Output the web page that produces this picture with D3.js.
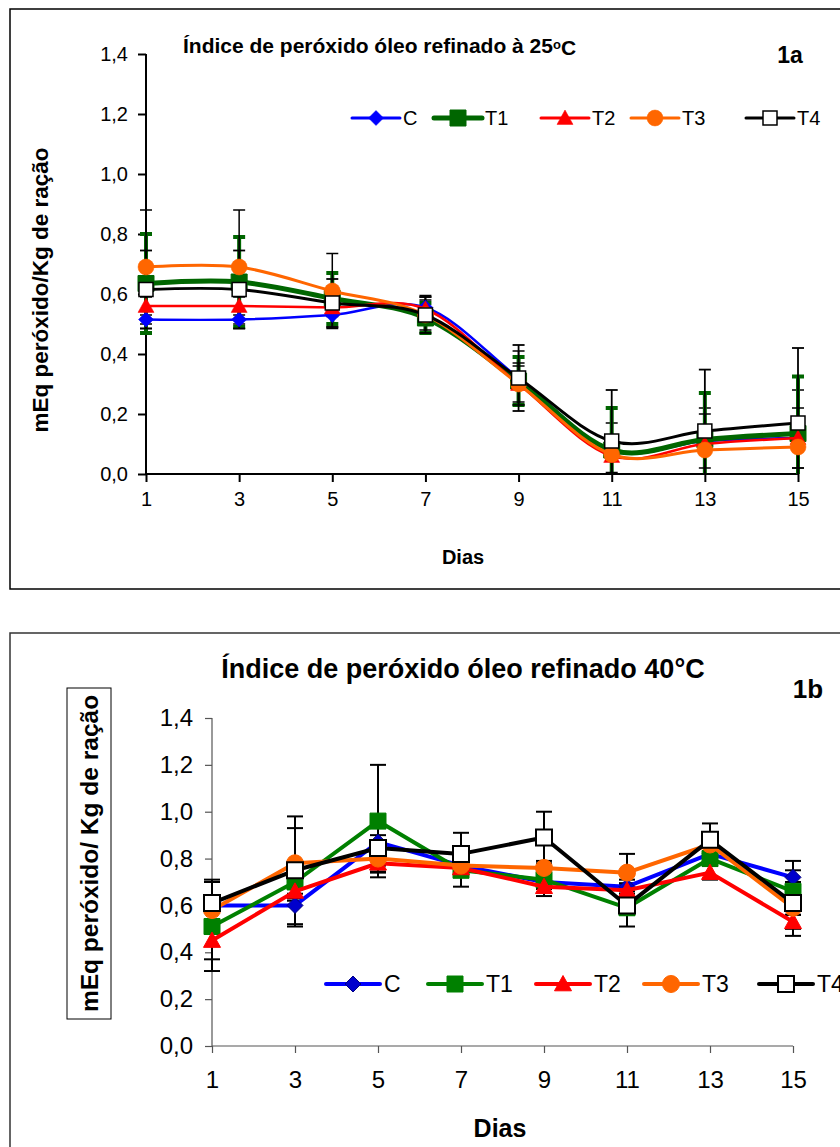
<!DOCTYPE html>
<html><head><meta charset="utf-8">
<script src="https://cdn.jsdelivr.net/npm/d3@7"></script>
<style>body{margin:0;background:#fff;} svg{display:block;font-family:"Liberation Sans",Arial,sans-serif;}</style>
</head><body>
<script>
// ---------- DATA ----------
const days = [1, 3, 5, 7, 9, 11, 13, 15];
const seriesNames = ["C", "T1", "T2", "T3", "T4"];
const yTicks = [0, 0.2, 0.4, 0.6, 0.8, 1.0, 1.2, 1.4];

// Chart 1a: 25 °C
const a_C   = [0.515, 0.515, 0.53, 0.555, 0.32, 0.08, 0.11, 0.12];
const a_T1  = [0.635, 0.64, 0.585, 0.52, 0.31, 0.08, 0.115, 0.135];
const a_T2  = [0.56, 0.56, 0.555, 0.55, 0.30, 0.06, 0.10, 0.12];
const a_T3  = [0.69, 0.69, 0.61, 0.53, 0.30, 0.065, 0.08, 0.09];
const a_T4  = [0.615, 0.615, 0.57, 0.53, 0.32, 0.11, 0.143, 0.17];
const a_C_err  = [0.03, 0.03, 0.04, 0.04, 0.09, 0.09, 0.11, 0.16];
const a_T1_err = [0.165, 0.15, 0.085, 0.05, 0.08, 0.14, 0.155, 0.19];
const a_T2_err = [0.03, 0.03, 0.03, 0.04, 0.07, 0.06, 0.10, 0.10];
const a_T3_err = [0.19, 0.19, 0.125, 0.05, 0.06, 0.06, 0.06, 0.07];
const a_T4_err = [0.13, 0.13, 0.08, 0.06, 0.11, 0.17, 0.205, 0.25];

// Chart 1b: 40 °C
const b_C   = [0.60, 0.60, 0.87, 0.77, 0.70, 0.68, 0.82, 0.72];
const b_T1  = [0.51, 0.70, 0.96, 0.75, 0.71, 0.59, 0.80, 0.66];
const b_T2  = [0.45, 0.66, 0.78, 0.76, 0.68, 0.665, 0.74, 0.53];
const b_T3  = [0.58, 0.78, 0.80, 0.77, 0.76, 0.74, 0.86, 0.59];
const b_T4  = [0.61, 0.75, 0.845, 0.82, 0.89, 0.60, 0.88, 0.61];
const b_C_err  = [0.03, 0.09, 0.03, 0.03, 0.03, 0.03, 0.03, 0.07];
const b_T1_err = [0.19, 0.05, 0.24, 0.07, 0.03, 0.03, 0.03, 0.04];
const b_T2_err = [0.08, 0.04, 0.04, 0.03, 0.04, 0.03, 0.03, 0.03];
const b_T3_err = [0.06, 0.15, 0.03, 0.03, 0.03, 0.08, 0.03, 0.03];
const b_T4_err = [0.10, 0.23, 0.10, 0.09, 0.11, 0.09, 0.07, 0.14];

const titleA = "Índice de peróxido óleo refinado à 25";
const titleB = "Índice de peróxido óleo refinado 40°C";
const yLabelA = "mEq peróxido/Kg de ração";
const yLabelB = "mEq peróxido/ Kg de ração";
const xLabel = "Dias";

// ---------- HELPERS ----------
const fmt = v => d3.format(".1f")(v).replace(".", ",");

function markerPath(type, s) {
  const h = s / 2;
  if (type === "diamond") return `M0,${-h}L${h},0L0,${h}L${-h},0Z`;
  if (type === "square") return `M${-h},${-h}H${h}V${h}H${-h}Z`;
  if (type === "triangle") return `M0,${-h}L${h},${h * 0.8}L${-h},${h * 0.8}Z`;
  if (type === "circle") return d3.arc()({innerRadius: 0, outerRadius: h, startAngle: 0, endAngle: 2 * Math.PI});
  return "";
}

const svg = d3.select("body").append("svg").attr("width", 840).attr("height", 1147);

function drawChart(cfg) {
  const g = svg.append("g");
  const x = d3.scaleLinear().domain([1, 15]).range([cfg.x0, cfg.x1]);
  const y = d3.scaleLinear().domain([0, 1.4]).range([cfg.y0, cfg.y1]);

  g.append("rect").attr("x", cfg.frame[0]).attr("y", cfg.frame[1])
    .attr("width", cfg.frame[2]).attr("height", cfg.frame[3])
    .attr("fill", "none").attr("stroke", cfg.frameColor).attr("stroke-width", 1.5);

  const ya = g.append("g").attr("transform", `translate(${cfg.x0},0)`)
    .call(d3.axisLeft(y).tickValues(yTicks).tickFormat(fmt).tickSize(cfg.tickLen).tickPadding(cfg.yPad).tickSizeOuter(0));
  const xa = g.append("g").attr("transform", `translate(0,${cfg.y0})`)
    .call(d3.axisBottom(x).tickValues(days).tickFormat(d3.format("d")).tickSize(cfg.tickLen).tickPadding(cfg.xPad).tickSizeOuter(0));
  [ya, xa].forEach(a => {
    a.select(".domain").attr("stroke", cfg.axisColor).attr("stroke-width", cfg.axisW);
    a.selectAll(".tick line").attr("stroke", cfg.axisColor).attr("stroke-width", cfg.axisW);
    a.selectAll("text").attr("fill", "#000").style("font-size", cfg.tickFont + "px")
      .style("font-family", '"Liberation Sans",Arial,sans-serif');
  });
  xa.select(".domain").attr("d", `M${cfg.x0},0H${cfg.x1}`);
  ya.select(".domain").attr("d", `M0,${cfg.y0}V${cfg.y1}`);

  const clipId = "clip" + cfg.id;
  g.append("clipPath").attr("id", clipId).append("rect")
    .attr("x", cfg.x0 - 20).attr("y", cfg.y1 - 5).attr("width", cfg.x1 - cfg.x0 + 40).attr("height", cfg.y0 - cfg.y1 + 5);

  const plot = g.append("g");
  const line = d3.line().x((d, i) => x(days[i])).y(d => y(d)).curve(cfg.curve);

  const eb = plot.append("g").attr("clip-path", `url(#${clipId})`);
  cfg.series.forEach(s => {
    s.values.forEach((v, i) => {
      const e = s.err[i];
      const cx = x(days[i]);
      const lo = Math.max(0, v - e), hi = v + e;
      const col = s.errColor, w = s.errW, cw = cfg.capW;
      eb.append("line").attr("x1", cx).attr("x2", cx).attr("y1", y(lo)).attr("y2", y(hi))
        .attr("stroke", col).attr("stroke-width", w);
      [v + e, v - e].forEach(c => {
        if (c < 0) return;
        eb.append("line").attr("x1", cx - cw / 2).attr("x2", cx + cw / 2).attr("y1", y(c)).attr("y2", y(c))
          .attr("stroke", col).attr("stroke-width", w);
      });
    });
  });

  cfg.series.forEach(s => {
    plot.append("path").datum(s.values).attr("d", line)
      .attr("fill", "none").attr("stroke", s.color).attr("stroke-width", s.lineW)
      .attr("stroke-linejoin", "round");
    plot.selectAll(null).data(s.values).enter().append("path")
      .attr("transform", (d, i) => `translate(${x(days[i])},${y(d)})`)
      .attr("d", markerPath(s.marker, s.size))
      .attr("fill", s.fill).attr("stroke", s.stroke).attr("stroke-width", s.strokeW);
  });

  const lg = g.append("g");
  cfg.series.forEach((s, i) => {
    const lx = cfg.legendX[i], ly = cfg.legendY;
    lg.append("line").attr("x1", lx - cfg.legendHalf).attr("x2", lx + cfg.legendHalf)
      .attr("y1", ly).attr("y2", ly).attr("stroke", s.color).attr("stroke-width", s.legendLineW)
      .attr("stroke-linecap", "round");
    lg.append("path").attr("transform", `translate(${lx},${ly})`).attr("d", markerPath(s.marker, s.size))
      .attr("fill", s.fill).attr("stroke", s.stroke).attr("stroke-width", s.strokeW);
    lg.append("text").attr("x", lx + cfg.legendHalf + cfg.legendGap).attr("y", ly).attr("dy", "0.36em")
      .style("font-size", cfg.legendFont + "px").text(seriesNames[i]);
  });

  return g;
}

// ---------- CHART 1a ----------
const gA = drawChart({
  id: "A", x0: 146, x1: 798, y0: 474, y1: 54,
  frame: [10, 9, 850, 580], frameColor: "#000",
  axisColor: "#000", axisW: 2, tickLen: 8, yPad: 10, xPad: 10, tickFont: 20,
  capW: 12, curve: d3.curveCardinal.tension(0),
  legendX: [376, 458, 565, 655, 770], legendY: 118, legendHalf: 24, legendGap: 3, legendFont: 20,
  series: [
    {values: a_C, err: a_C_err, color: "#0000FF", lineW: 2.5, marker: "diamond", size: 15, fill: "#0000FF", stroke: "#0000FF", strokeW: 0.5, errColor: "#000", errW: 1.5, legendLineW: 3},
    {values: a_T1, err: a_T1_err, color: "#006600", lineW: 5, marker: "square", size: 16, fill: "#006600", stroke: "#006600", strokeW: 1, errColor: "#006600", errW: 4, legendLineW: 5},
    {values: a_T2, err: a_T2_err, color: "#FF0000", lineW: 2.5, marker: "triangle", size: 16, fill: "#FF0000", stroke: "#FF0000", strokeW: 0.5, errColor: "#000", errW: 1.5, legendLineW: 3},
    {values: a_T3, err: a_T3_err, color: "#FF6600", lineW: 3, marker: "circle", size: 16, fill: "#FF6600", stroke: "#FF6600", strokeW: 0.5, errColor: "#000", errW: 1.5, legendLineW: 3},
    {values: a_T4, err: a_T4_err, color: "#000000", lineW: 3, marker: "square", size: 14, fill: "#FFFFFF", stroke: "#000", strokeW: 1.5, errColor: "#000", errW: 1.8, legendLineW: 3}
  ]
});
const tA = gA.append("text").attr("x", 183).attr("y", 53)
  .style("font-size", "21px").style("font-weight", "bold");
tA.append("tspan").text(titleA);
tA.append("tspan").attr("dy", "-0.3em").style("font-size", "13px").text("o");
tA.append("tspan").attr("dy", "0.3em").text("C");
gA.append("text").attr("x", 790).attr("y", 63).attr("text-anchor", "middle")
  .style("font-size", "23px").style("font-weight", "bold").text("1a");
gA.append("text").attr("transform", "translate(48,290) rotate(-90)").attr("text-anchor", "middle")
  .style("font-size", "22.5px").style("font-weight", "bold").text(yLabelA);
gA.append("text").attr("x", 463).attr("y", 564).attr("text-anchor", "middle")
  .style("font-size", "20px").style("font-weight", "bold").text(xLabel);

// ---------- CHART 1b ----------
const gB = drawChart({
  id: "B", x0: 212, x1: 793, y0: 1046, y1: 718,
  frame: [10, 633, 850, 530], frameColor: "#333",
  axisColor: "#555", axisW: 1.2, tickLen: 7, yPad: 12, xPad: 18, tickFont: 24,
  capW: 16, curve: d3.curveLinear,
  legendX: [353, 455, 563, 671, 786], legendY: 984, legendHalf: 27, legendGap: 4, legendFont: 23,
  series: [
    {values: b_C, err: b_C_err, color: "#0000FF", lineW: 4, marker: "diamond", size: 16, fill: "#0000CC", stroke: "#000080", strokeW: 1, errColor: "#000", errW: 2, legendLineW: 4},
    {values: b_T1, err: b_T1_err, color: "#008000", lineW: 4, marker: "square", size: 16, fill: "#008000", stroke: "#008000", strokeW: 1, errColor: "#000", errW: 2, legendLineW: 4},
    {values: b_T2, err: b_T2_err, color: "#FF0000", lineW: 4, marker: "triangle", size: 17, fill: "#FF0000", stroke: "#FF0000", strokeW: 1, errColor: "#000", errW: 2, legendLineW: 4},
    {values: b_T3, err: b_T3_err, color: "#FF6600", lineW: 4, marker: "circle", size: 17, fill: "#FF6600", stroke: "#FF6600", strokeW: 1, errColor: "#000", errW: 2, legendLineW: 4},
    {values: b_T4, err: b_T4_err, color: "#000000", lineW: 4, marker: "square", size: 16, fill: "#FFFFFF", stroke: "#000", strokeW: 2, errColor: "#000", errW: 2, legendLineW: 4}
  ]
});
gB.append("text").attr("x", 463).attr("y", 678).attr("text-anchor", "middle")
  .style("font-size", "27px").style("font-weight", "bold").text(titleB);
gB.append("text").attr("x", 808).attr("y", 698).attr("text-anchor", "middle")
  .style("font-size", "26px").style("font-weight", "bold").text("1b");
gB.append("rect").attr("x", 67).attr("y", 688).attr("width", 44).attr("height", 331)
  .attr("fill", "none").attr("stroke", "#000").attr("stroke-width", 1);
gB.append("text").attr("transform", "translate(98,853.5) rotate(-90)").attr("text-anchor", "middle")
  .style("font-size", "24.5px").style("font-weight", "bold").text(yLabelB);
gB.append("text").attr("x", 500).attr("y", 1137).attr("text-anchor", "middle")
  .style("font-size", "25px").style("font-weight", "bold").text(xLabel);
</script>
</body></html>
